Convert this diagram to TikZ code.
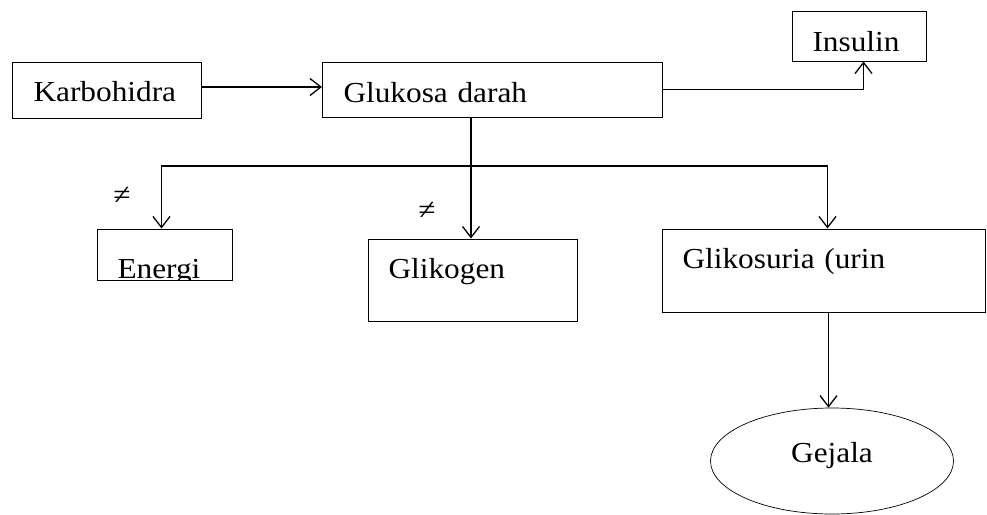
\documentclass[tikz,border=0pt]{standalone}
\usepackage{amsmath,amssymb}
\usepackage{fontspec}
\setmainfont{Liberation Serif}[FakeStretch=1.08]
\usetikzlibrary{arrows.meta,shapes.geometric}

\tikzset{
    kotak/.style={draw, rectangle, line width=1pt, inner ysep=0pt, align=left,
        anchor=base west, font=\fontsize{29}{34}\selectfont},
    garis/.style={line width=1.3pt},
    panah/.style={garis, -{Straight Barb[length=11pt,width=17pt,line width=1.3pt]}},
    beda/.style={font=\fontsize{29}{34}\selectfont},
}

\begin{document}
\begin{tikzpicture}[x=1pt, y=-1pt]
    \useasboundingbox (0, 0) rectangle (987, 514);
    \node[kotak, inner xsep=21pt, text width=147pt, text height=39pt, text depth=17pt] (karbo) at (12, 101) {Karbohidra};
    \node[kotak, inner xsep=21pt, text width=298pt, text height=40pt, text depth=15pt] (gluk) at (322, 102) {Glukosa darah};
    \node[kotak, inner xsep=20pt, text width=94pt, text height=40pt, text depth=10pt] (insulin) at (792, 51) {Insulin};
    \begin{scope}
        \clip (90, 220) rectangle (240, 280.5);
        \node[kotak, inner xsep=20pt, text width=95pt, text height=49pt, text depth=2pt] (energi) at (97, 278) {Energi};
    \end{scope}
    \node[kotak, inner xsep=20pt, text width=169pt, text height=39pt, text depth=43pt] (glikogen) at (368, 278) {Glikogen};
    \node[kotak, inner xsep=20pt, text width=283pt, text height=39pt, text depth=44pt] (glikosuria) at (662, 268) {Glikosuria (urin};
    \node[draw, ellipse, line width=0.7pt, minimum width=243pt, minimum height=106pt, inner sep=0pt,
        text height=10pt, text depth=8pt, font=\fontsize{29}{34}\selectfont] (gejala) at (832, 461) {Gejala};
    \node[beda] (beda1) at (122, 196) {≠};
    \node[beda] (beda2) at (427, 211) {≠};

    \coordinate (cabang) at (471, 166);
    \draw[panah] ([yshift=3pt]karbo.east) -- ([yshift=3pt]karbo.east -| gluk.west);
    \draw[panah] (gluk.east) -| ([xshift=4pt]insulin.south);
    \draw[garis] (gluk.south -| cabang) -- (cabang);
    \draw[panah] (cabang) -- (cabang |- glikogen.north);
    \draw[panah] (cabang) -| ([xshift=-3.5pt]energi.north);
    \draw[panah] (cabang) -| ([xshift=3.5pt]glikosuria.north);
    \draw[panah] ([xshift=4.5pt]glikosuria.south) -- ([xshift=4.5pt]glikosuria.south |- gejala.north);
\end{tikzpicture}
\end{document}
